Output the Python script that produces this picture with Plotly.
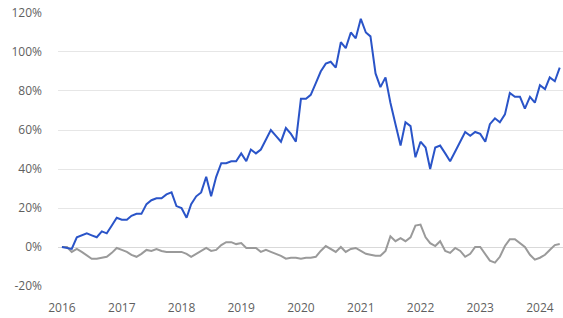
import pandas as pd
import plotly.graph_objects as go

dates = pd.date_range("2016-01-01", periods=101, freq="MS")

blue_values = [
    0, -0.5, -1, 5, 6, 7, 6, 5, 8, 7, 11, 15,
    14, 14, 16, 17, 17, 22, 24, 25, 25, 27, 28, 21,
    20, 15, 22, 26, 28, 36, 26, 36, 43, 43, 44, 44,
    48, 44, 50, 48, 50, 55, 60, 57, 54, 61, 58, 54,
    76, 76, 78, 84, 90, 94, 95, 92, 105, 102, 110, 107,
    117, 110, 108, 89, 82, 87, 74, 63, 52, 64, 62, 46,
    54, 51, 40, 51, 52, 48, 44, 49, 54, 59, 57, 59,
    58, 54, 63, 66, 64, 68, 79, 77, 77, 71, 77, 74,
    83, 81, 87, 85, 92,
]

gray_values = [
    0, 0, -2.5, -1, -2.5, -4.5, -6, -6, -5.5, -5, -3, -0.5,
    -1.5, -2.5, -4, -5, -3.5, -1.5, -2, -1, -2, -2.5, -2.5, -2.5,
    -2.5, -3.5, -5, -3.5, -2, -0.5, -2, -1.5, 1, 2.5, 2.5, 1.5,
    2, -0.5, -0.5, -0.5, -2.5, -1.5, -2.5, -3.5, -4.5, -6, -5.5, -5.5,
    -6, -5.5, -5.5, -5, -2, 0.5, -1, -2.5, 0, -2.5, -1, -0.5,
    -2, -3.5, -4, -4.5, -4.5, -2, 5.5, 3, 4.5, 3, 5, 11,
    11.5, 5, 2, 0.5, 3, -2, -3, -0.5, -2, -5, -3.5, 0,
    0, -4, -7, -8, -5, 0.5, 4, 4, 2, 0, -4, -6.5,
    -5.5, -4, -1.5, 1, 1.5,
]

y_ticks = [-20, 0, 20, 40, 60, 80, 100, 120]
y_tick_labels = ["-20%", "0%", "20%", "40%", "60%", "80%", "100%", "120%"]
x_ticks = [f"{y}-01-01" for y in range(2016, 2025)]
x_tick_labels = [str(y) for y in range(2016, 2025)]

fig = go.Figure()
fig.add_trace(go.Scatter(x=dates, y=gray_values, mode="lines",
                         line=dict(color="#9a9a9a", width=2), hoverinfo="skip"))
fig.add_trace(go.Scatter(x=dates, y=blue_values, mode="lines",
                         line=dict(color="#2a54c8", width=2), hoverinfo="skip"))

fig.update_layout(
    width=563, height=318,
    margin=dict(l=58, r=0, t=12, b=31, autoexpand=False),
    paper_bgcolor="white", plot_bgcolor="white",
    showlegend=False,
    font=dict(family="Open Sans", size=12, color="#5f5f5f"),
)
fig.update_xaxes(
    range=["2015-12-08", "2024-05-21"],
    tickmode="array", tickvals=x_ticks, ticktext=x_tick_labels,
    showgrid=False, zeroline=False, showline=False, ticks="",
    ticklabelstandoff=12, automargin=False,
)
fig.update_yaxes(
    range=[-20.5, 120.5],
    tickmode="array", tickvals=y_ticks, ticktext=y_tick_labels,
    showgrid=True, gridcolor="#e6e6e6", gridwidth=1,
    zeroline=True, zerolinecolor="#d9d9d9", zerolinewidth=1,
    showline=False, ticks="", ticklabelstandoff=15, automargin=False,
)

fig.write_html(
    "out.html",
    config={"displayModeBar": False},
    post_script="document.body.style.margin='0';document.body.style.overflow='hidden';",
)
